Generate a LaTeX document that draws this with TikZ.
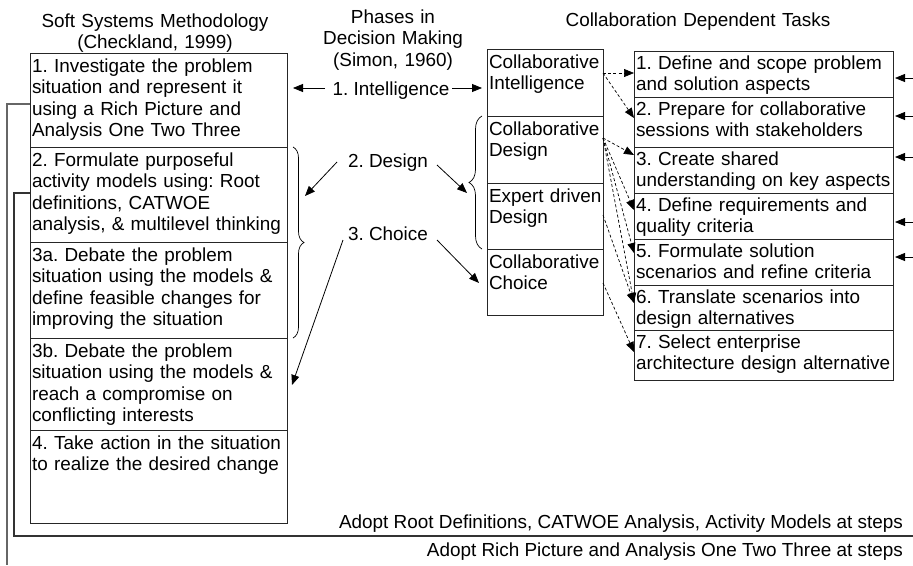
\documentclass[tikz,border=0pt]{standalone}
\usepackage{fontspec}
\setmainfont{Liberation Sans}
\frenchspacing
\usetikzlibrary{arrows.meta,decorations.pathreplacing}
\begin{document}
\begin{tikzpicture}[x=1pt,y=-1pt,
  font=\fontsize{18.9}{21.5}\selectfont,
  box/.style={draw=black!85, line width=0.9pt, inner sep=0pt, outer sep=0pt,
    anchor=north west, minimum width=#1},
  lbox/.style={box=257pt},
  mbox/.style={box=116pt},
  rbox/.style={box=259pt},
  txt/.style={anchor=base west, inner sep=0pt, outer sep=0pt, align=left, text width=300pt},
  ttl/.style={anchor=base, inner sep=0pt, align=center, text width=320pt},
  tip/.style={-{Triangle[length=10pt,width=8pt]}},
  arr/.style={tip, line width=0.8pt},
  dsh/.style={tip, dash pattern=on 3pt off 2.2pt, line width=0.7pt},
  brc/.style={decorate, decoration={brace, amplitude=#1}, line width=0.7pt},
]
\useasboundingbox (0,0) rectangle (913,565);

% ---- column titles ----
\node[ttl] (tssm) at (155,27) {Soft Systems Methodology\\(Checkland, 1999)};
\node[ttl] (tdm)  at (393,23) {Phases in\\Decision Making\\(Simon, 1960)};
\node[ttl] (tcdt) at (698,26) {Collaboration Dependent Tasks};

% ---- SSM steps ----
\node[lbox, minimum height=94pt] (s1) at (30,53) {};
\node[lbox, minimum height=95pt] (s2) at (30,147) {};
\node[lbox, minimum height=96pt] (s3) at (30,242) {};
\node[lbox, minimum height=92pt] (s4) at (30,338) {};
\node[lbox, minimum height=93pt] (s5) at (30,430) {};
\node[txt] (s1t) at (32,72)  {1. Investigate the problem\\situation and represent it\\using a Rich Picture and\\Analysis One Two Three};
\node[txt] (s2t) at (32,166) {2. Formulate purposeful\\activity models using: Root\\definitions, CATWOE\\analysis, \& multilevel thinking};
\node[txt] (s3t) at (32,261) {3a. Debate the problem\\situation using the models \&\\define feasible changes for\\improving the situation};
\node[txt] (s4t) at (32,357) {3b. Debate the problem\\situation using the models \&\\reach a compromise on\\conflicting interests};
\node[txt] (s5t) at (32,449) {4. Take action in the situation\\to realize the desired change};

% ---- collaboration modes ----
\node[mbox, minimum height=67pt] (ci)  at (487,49) {};
\node[mbox, minimum height=67pt] (cd)  at (487,116) {};
\node[mbox, minimum height=66pt] (edd) at (487,183) {};
\node[mbox, minimum height=66pt] (cc)  at (487,249) {};
\node[txt] (cit)  at (489,68)  {Collaborative\\Intelligence};
\node[txt] (cdt)  at (489,135) {Collaborative\\Design};
\node[txt] (eddt) at (489,202) {Expert driven\\Design};
\node[txt] (cct)  at (489,268) {Collaborative\\Choice};

% ---- tasks ----
\node[rbox, minimum height=46pt] (t1) at (634,51) {};
\node[rbox, minimum height=50pt] (t2) at (634,97) {};
\node[rbox, minimum height=46pt] (t3) at (634,147) {};
\node[rbox, minimum height=46pt] (t4) at (634,193) {};
\node[rbox, minimum height=46pt] (t5) at (634,239) {};
\node[rbox, minimum height=45pt] (t6) at (634,285) {};
\node[rbox, minimum height=50pt] (t7) at (634,330) {};
\node[txt] (t1t) at (636,69)  {1. Define and scope problem\\and solution aspects};
\node[txt] (t2t) at (636,115) {2. Prepare for collaborative\\sessions with stakeholders};
\node[txt] (t3t) at (636,165) {3. Create shared\\understanding on key aspects};
\node[txt] (t4t) at (636,211) {4. Define requirements and\\quality criteria};
\node[txt] (t5t) at (636,257) {5. Formulate solution\\scenarios and refine criteria};
\node[txt] (t6t) at (636,303) {6. Translate scenarios into\\design alternatives};
\node[txt] (t7t) at (636,348) {7. Select enterprise\\architecture design alternative};

% ---- decision phases ----
\node[anchor=base, inner sep=0pt] (ph1) at (391,95)  {1. Intelligence};
\node[anchor=base, inner sep=0pt] (ph2) at (388,167) {2. Design};
\node[anchor=base, inner sep=0pt] (ph3) at (388,240) {3. Choice};

\coordinate (i1a) at (325,88);
\coordinate (i1b) at (452,88);
\draw[arr] (i1a) -- ([xshift=6pt]s1.east |- i1a);
\draw[arr] (i1b) -- ([xshift=-5pt]ci.west |- i1b);

\coordinate (d1a) at (337,162);  \coordinate (d1b) at (305,196);
\coordinate (d2a) at (437,165);  \coordinate (d2b) at (467,193);
\draw[arr] (d1a) -- (d1b);
\draw[arr] (d2a) -- (d2b);

\coordinate (c1a) at (343,240);  \coordinate (c1b) at (292,385);
\coordinate (c2a) at (437,240);  \coordinate (c2b) at (479,283);
\draw[arr] (c1a) -- (c1b);
\draw[arr] (c2a) -- (c2b);

% ---- braces ----
\draw[brc=11pt] ([xshift=6pt]s2.north east) -- ([xshift=6pt]s3.south east);
\draw[brc=13pt] ([xshift=-5pt]edd.south west) -- ([xshift=-5pt]cd.north west);

% ---- modes to tasks ----
\coordinate (ciout)  at ([yshift=9.5pt]ci.east);
\coordinate (cdout)  at ([yshift=11.5pt]cd.east);
\coordinate (eddout) at ([yshift=1pt]edd.east);
\coordinate (ccout)  at ([yshift=-1pt]cc.east);
\draw[dsh] (ciout) -- (ciout -| t1.west);
\draw[dsh] (ciout) -- ([yshift=4pt]t2.west);
\draw[dsh] (cdout) -- ([yshift=15pt]t3.west);
\draw[dsh] (cdout) -- ([yshift=6pt]t4.west);
\draw[dsh] (cdout) -- ([yshift=9pt]t5.west);
\draw[dsh] (cdout) -- ([yshift=4.5pt]t6.west);
\draw[dsh] (eddout) -- ([yshift=4.5pt]t6.west);
\draw[dsh] (ccout) -- ([yshift=3pt]t7.west);

% ---- incoming arrows on the task list ----
\foreach \t/\yy in {t1/78, t2/116, t3/157, t4/222, t5/257}{
  \coordinate (in\t) at (913,\yy);
  \draw[arr] (in\t) -- ([xshift=2pt]\t.east |- in\t);
}

% ---- technique adoption lines ----
\coordinate (lk1) at ([yshift=-4pt]s1.west);
\coordinate (lk2) at ([yshift=1.5pt]s2.west);
\draw[black!60, line width=1.4pt] (lk1) -| (7,565);
\draw[black!80, line width=1.1pt] (lk2) -| (14,536) -- (913,536);
\node[anchor=base east, inner sep=0pt] (adrd) at (903,528) {Adopt Root Definitions, CATWOE Analysis, Activity Models at steps};
\node[anchor=base east, inner sep=0pt] (adrp) at (903,556) {Adopt Rich Picture and Analysis One Two Three at steps};
\end{tikzpicture}
\end{document}
